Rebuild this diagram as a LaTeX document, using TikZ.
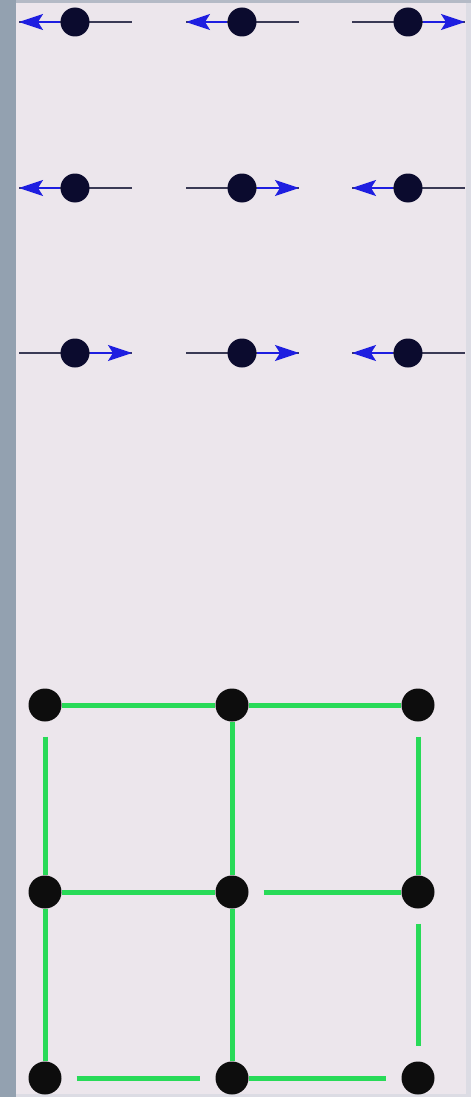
\documentclass[tikz,border=0pt]{standalone}
\usetikzlibrary{arrows.meta}
\definecolor{bg}{HTML}{ECE6EC}
\definecolor{strip}{HTML}{93A1B0}
\definecolor{topstrip}{HTML}{B4BAC6}
\definecolor{rim}{HTML}{DCDCE4}
\definecolor{navy}{HTML}{0B0B2E}
\definecolor{shaftc}{HTML}{3A3A55}
\definecolor{arrowblue}{HTML}{1E1EE0}
\definecolor{grn}{HTML}{28DA58}
\tikzset{
  tdot/.style={circle,fill=navy,inner sep=0pt,minimum size=29pt},
  bdot/.style={circle,fill=black!95,inner sep=0pt,minimum size=33pt},
  shaft/.style={draw=shaftc,line width=1.6pt},
  spin/.style={draw=arrowblue,line width=2pt,-{Stealth[length=24pt,width=16pt,inset=5pt]}},
  bond/.style={draw=grn,line width=5pt},
  gap/.style={shorten <=15pt},
  gapend/.style={shorten >=15pt}
}
\begin{document}
\begin{tikzpicture}[x=1pt,y=-1pt]
\useasboundingbox (0,0) rectangle (471,1097);
\fill[bg] (0,0) rectangle (471,1097);
\fill[strip] (0,0) rectangle (16,1097);
\fill[topstrip] (16,0) rectangle (471,3.5);
\fill[rim] (466,3.5) rectangle (471,1097);
\fill[rim] (16,1094) rectangle (466,1097);

% top lattice: coordinates for line ends
\foreach \r/\y in {1/22,2/188,3/353}{
  \foreach \c/\x in {1/75,2/242,3/408}{
    \coordinate (L\r\c) at (\x-56,\y);
    \coordinate (R\r\c) at (\x+57,\y);
    \draw[shaft] (L\r\c) -- (R\r\c);
  }
}
\node[tdot] (t11) at (75,22) {};
\node[tdot] (t12) at (242,22) {};
\node[tdot] (t13) at (408,22) {};
\node[tdot] (t21) at (75,188) {};
\node[tdot] (t22) at (242,188) {};
\node[tdot] (t23) at (408,188) {};
\node[tdot] (t31) at (75,353) {};
\node[tdot] (t32) at (242,353) {};
\node[tdot] (t33) at (408,353) {};

\draw[spin] (t11) -- (L11);
\draw[spin] (t12) -- (L12);
\draw[spin] (t13) -- (R13);
\draw[spin] (t21) -- (L21);
\draw[spin] (t22) -- (R22);
\draw[spin] (t23) -- (L23);
\draw[spin] (t31) -- (R31);
\draw[spin] (t32) -- (R32);
\draw[spin] (t33) -- (L33);

% bottom lattice
\node[bdot] (b11) at (45,705) {};
\node[bdot] (b12) at (232,705) {};
\node[bdot] (b13) at (418,705) {};
\node[bdot] (b21) at (45,892) {};
\node[bdot] (b22) at (232,892) {};
\node[bdot] (b23) at (418,892) {};
\node[bdot] (b31) at (45,1078) {};
\node[bdot] (b32) at (232,1078) {};
\node[bdot] (b33) at (418,1078) {};

% horizontal bonds
\draw[bond] (b11) -- (b12);
\draw[bond] (b12) -- (b13);
\draw[bond] (b21) -- (b22);
\draw[bond,gap] (b22) -- (b23);
\draw[bond,gap,gapend] (b31) -- (b32);
\draw[bond,gapend] (b32) -- (b33);
% vertical bonds
\draw[bond,gap] (b11) -- (b21);
\draw[bond] (b12) -- (b22);
\draw[bond,gap] (b13) -- (b23);
\draw[bond] (b21) -- (b31);
\draw[bond] (b22) -- (b32);
\draw[bond,gap,gapend] (b23) -- (b33);
\end{tikzpicture}
\end{document}
